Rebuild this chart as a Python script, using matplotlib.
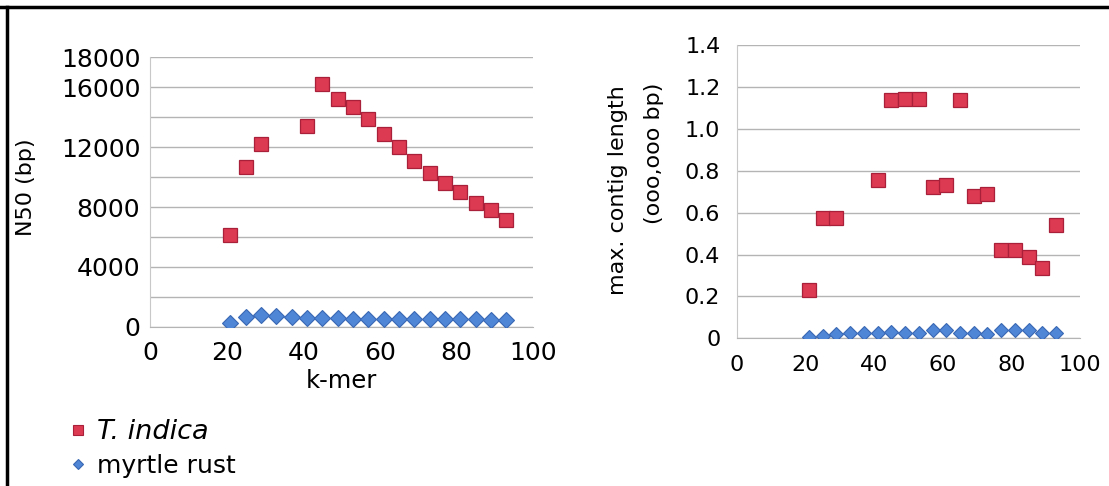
import matplotlib
matplotlib.use("Agg")
import matplotlib.pyplot as plt
from matplotlib.lines import Line2D

# ---------------- data ----------------
kmer_all = [21, 25, 29, 33, 37, 41, 45, 49, 53, 57, 61, 65, 69, 73, 77, 81, 85, 89, 93]
kmer_ti = [21, 25, 29, 41, 45, 49, 53, 57, 61, 65, 69, 73, 77, 81, 85, 89, 93]

n50_ti = [6100, 10700, 12200, 13400, 16200, 15200, 14700, 13900, 12900, 12000,
          11100, 10300, 9600, 9000, 8300, 7800, 7150]
n50_mr = [250, 650, 800, 700, 650, 600, 580, 560, 540, 530, 520, 520, 510, 510,
          500, 500, 490, 480, 470]

maxc_ti = [0.23, 0.575, 0.575, 0.755, 1.14, 1.145, 1.145, 0.725, 0.735, 1.14,
           0.68, 0.69, 0.42, 0.42, 0.39, 0.335, 0.54]
maxc_mr = [0.008, 0.011, 0.02, 0.024, 0.024, 0.027, 0.03, 0.027, 0.027, 0.04,
           0.04, 0.027, 0.024, 0.02, 0.04, 0.04, 0.04, 0.027, 0.027]

left_yticks = [0, 2000, 4000, 6000, 8000, 10000, 12000, 14000, 16000, 18000]
left_ylabels = ["0", "", "4000", "", "8000", "", "12000", "", "16000", "18000"]
right_yticks = [0, 0.2, 0.4, 0.6, 0.8, 1.0, 1.2, 1.4]
right_ylabels = ["0", "0.2", "0.4", "0.6", "0.8", "1.0", "1.2", "1.4"]
xticks = [0, 20, 40, 60, 80, 100]

series_names = ["T. indica", "myrtle rust"]

# ---------------- style ----------------
RED = "#dc3a52"
RED_EDGE = "#a8203a"
BLUE = "#4f86d6"
BLUE_EDGE = "#3a68b4"
GRID = "#b4b4b4"

W, H = 1109, 486
fig = plt.figure(figsize=(W / 100, H / 100), dpi=100)
fig.patch.set_facecolor("white")


def px_axes(x0, x1, ytop, ybot):
    return fig.add_axes([x0 / W, 1 - ybot / H, (x1 - x0) / W, (ybot - ytop) / H])


def style(ax, fs, pad_y, pad_x):
    ax.set_xlim(0, 100)
    ax.set_xticks(xticks)
    ax.grid(axis="y", color=GRID, lw=1.0)
    ax.set_axisbelow(True)
    for s in ["top", "right"]:
        ax.spines[s].set_visible(False)
    ax.spines["left"].set_color("#c8c8c8")
    ax.spines["bottom"].set_color(GRID)
    ax.tick_params(axis="y", length=0, labelsize=fs, pad=pad_y)
    ax.tick_params(axis="x", length=0, labelsize=fs, pad=pad_x)


# left chart
ax1 = px_axes(150, 533, 57.4, 326.7)
style(ax1, 18, 7, 10)
ax1.set_ylim(0, 18000)
ax1.set_yticks(left_yticks)
ax1.set_yticklabels(left_ylabels)
ax1.plot(kmer_all, n50_mr, ls="none", marker="D", ms=7.8, mfc=BLUE, mec=BLUE_EDGE, mew=0.8, zorder=3)
ax1.plot(kmer_ti, n50_ti, ls="none", marker="s", ms=9.5, mfc=RED, mec=RED_EDGE, mew=0.9, zorder=4)
ax1.set_xlabel("k-mer", fontsize=17.5, labelpad=3)
fig.text(26 / W, 1 - 187 / H, "N50 (bp)", rotation=90, fontsize=16, ha="center", va="center")

# right chart
ax2 = px_axes(737, 1080, 45.5, 338.3)
style(ax2, 16, 12, 12)
ax2.set_ylim(0, 1.4)
ax2.set_yticks(right_yticks)
ax2.set_yticklabels(right_ylabels)
ax2.plot(kmer_all, maxc_mr, ls="none", marker="D", ms=7, mfc=BLUE, mec=BLUE_EDGE, mew=0.8, zorder=3)
ax2.plot(kmer_ti, maxc_ti, ls="none", marker="s", ms=10, mfc=RED, mec=RED_EDGE, mew=0.9, zorder=4)
fig.text(618 / W, 1 - 190 / H, "max. contig length", rotation=90, fontsize=16, ha="center", va="center")
fig.text(654 / W, 1 - 153 / H, "(ooo,ooo bp)", rotation=90, fontsize=16, ha="center", va="center")

# legend
handles = [
    Line2D([], [], ls="none", marker="s", ms=7, mfc=RED, mec=RED_EDGE, mew=0.8),
    Line2D([], [], ls="none", marker="D", ms=5, mfc=BLUE, mec=BLUE_EDGE, mew=0.8),
]
leg = fig.legend(handles, series_names, loc="upper left",
                 bbox_to_anchor=(68 / W, 1 - 419 / H), frameon=False,
                 fontsize=18, handlelength=0.8, handletextpad=0.35,
                 labelspacing=0.35, borderpad=0, borderaxespad=0)
leg.get_texts()[0].set_fontstyle("italic")
leg.get_texts()[0].set_fontsize(19.5)

# frame lines (top and left)
fig.add_artist(Line2D([0, 1], [1 - 7 / H, 1 - 7 / H], transform=fig.transFigure, color="black", lw=2.5))
fig.add_artist(Line2D([7 / W, 7 / W], [0, 1 - 7 / H], transform=fig.transFigure, color="black", lw=2.5))

fig.savefig("out.png", dpi=100, facecolor="white")
